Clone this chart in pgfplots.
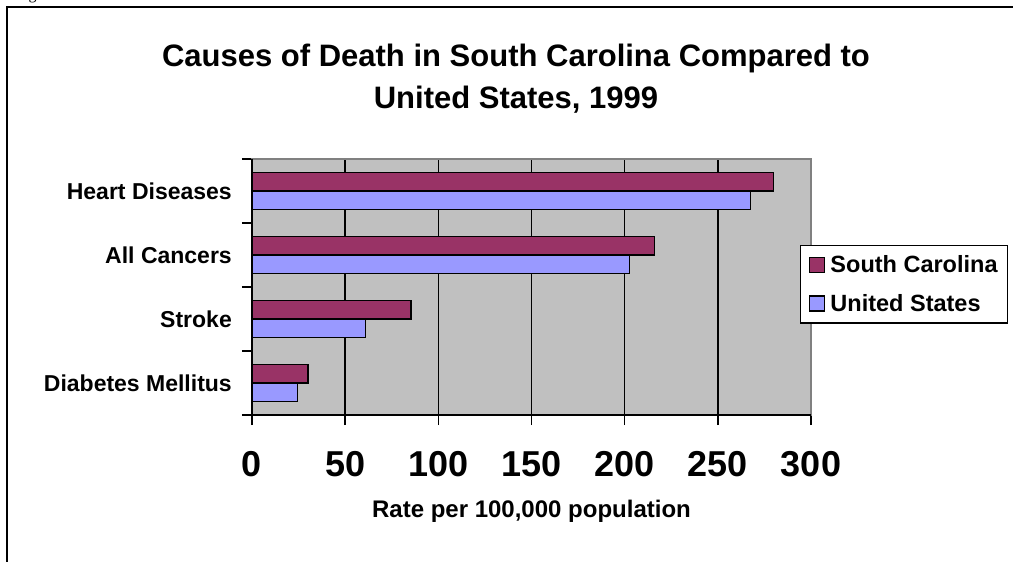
\documentclass[border=0pt]{standalone}
\usepackage{fontspec}
\setmainfont{Liberation Sans}
\newfontfamily\seriffont{Liberation Serif}
\usepackage{pgfplots}
\pgfplotsset{compat=1.18}
\definecolor{sc}{HTML}{993366}
\definecolor{us}{HTML}{9999FF}
\definecolor{bg}{HTML}{C0C0C0}
\definecolor{bd}{HTML}{808080}
\pgfplotsset{sqleg/.style={legend image code/.code={\path[draw=none,fill=none] (0pt,0pt) -- (19pt,0pt);\draw[#1, line width=1.5pt] (0pt,-7.5pt) rectangle (15pt,7.5pt);}}}
\begin{document}
\begin{tikzpicture}
\path[use as bounding box] (0pt,0pt) rectangle (1013pt,-562pt);
\clip (0pt,0pt) rectangle (1013pt,-562pt);
\draw[line width=2pt] (7pt,-7pt) rectangle (1030pt,-600pt);
\node[anchor=base west, inner sep=0pt, font=\seriffont\fontsize{16}{18}\selectfont] at (15pt,0.5pt) {Figure 3};
\node[anchor=base, inner sep=0pt, font=\bfseries\fontsize{31}{36}\selectfont] at (516pt,-66.7pt) {Causes of Death in South Carolina Compared to};
\node[anchor=base, inner sep=0pt, font=\bfseries\fontsize{31}{36}\selectfont] at (516pt,-108.7pt) {United States, 1999};
\begin{axis}[
  at={(252pt,-415pt)}, anchor=south west,
  width=559pt, height=256pt, scale only axis,
  xbar, bar width=18.5pt,
  xmin=0, xmax=300, ymin=-0.5, ymax=3.5,
  axis background/.style={fill=bg},
  axis line style={draw=bd, line width=1.5pt},
  tick style={black, line width=1.5pt},
  tick align=outside, major tick length=10pt,
  xtick pos=left, ytick pos=left,
  xtick={0,50,...,300},
  xmajorgrids, grid style={black, line width=1.5pt},
  ytick={-0.5,0.5,1.5,2.5,3.5},
  yticklabels={{},Diabetes Mellitus,Stroke,All Cancers,Heart Diseases},
  yticklabel style={font=\bfseries\fontsize{23}{27}\selectfont, inner sep=0pt, anchor=east, xshift=-10pt, yshift=-32pt},
  /pgf/number format/assume math mode=true,
  xticklabel style={font=\bfseries\fontsize{36}{40}\selectfont, inner sep=0pt, anchor=base, yshift=-51pt},
  xlabel={Rate per 100,000 population},
  xlabel style={at={(axis description cs:0.5,-0.402)}, anchor=base, inner sep=0pt, font=\bfseries\fontsize{24}{28}\selectfont},
  legend style={at={(0.9803,0.6641)}, anchor=north west, draw=black, line width=1.5pt, fill=white,
    font=\bfseries\fontsize{23.5}{27}\selectfont, inner xsep=8pt, inner ysep=8pt, row sep=16pt},
  legend cell align=left,
  clip=false,
]
\addplot[sqleg, draw=black, line width=1.5pt, fill=sc, bar shift=9.25pt] coordinates {(30,0) (85.3,1) (216,2) (280,3)};
\addlegendentry{South Carolina}
\addplot[sqleg, draw=black, line width=1.5pt, fill=us, bar shift=-9.25pt] coordinates {(24.5,0) (61,1) (202.5,2) (267.6,3)};
\addlegendentry{United States}
\draw[black, line width=1.5pt] (rel axis cs:0,1) -- (rel axis cs:0,0) -- (rel axis cs:1,0);
\end{axis}
\end{tikzpicture}
\end{document}
